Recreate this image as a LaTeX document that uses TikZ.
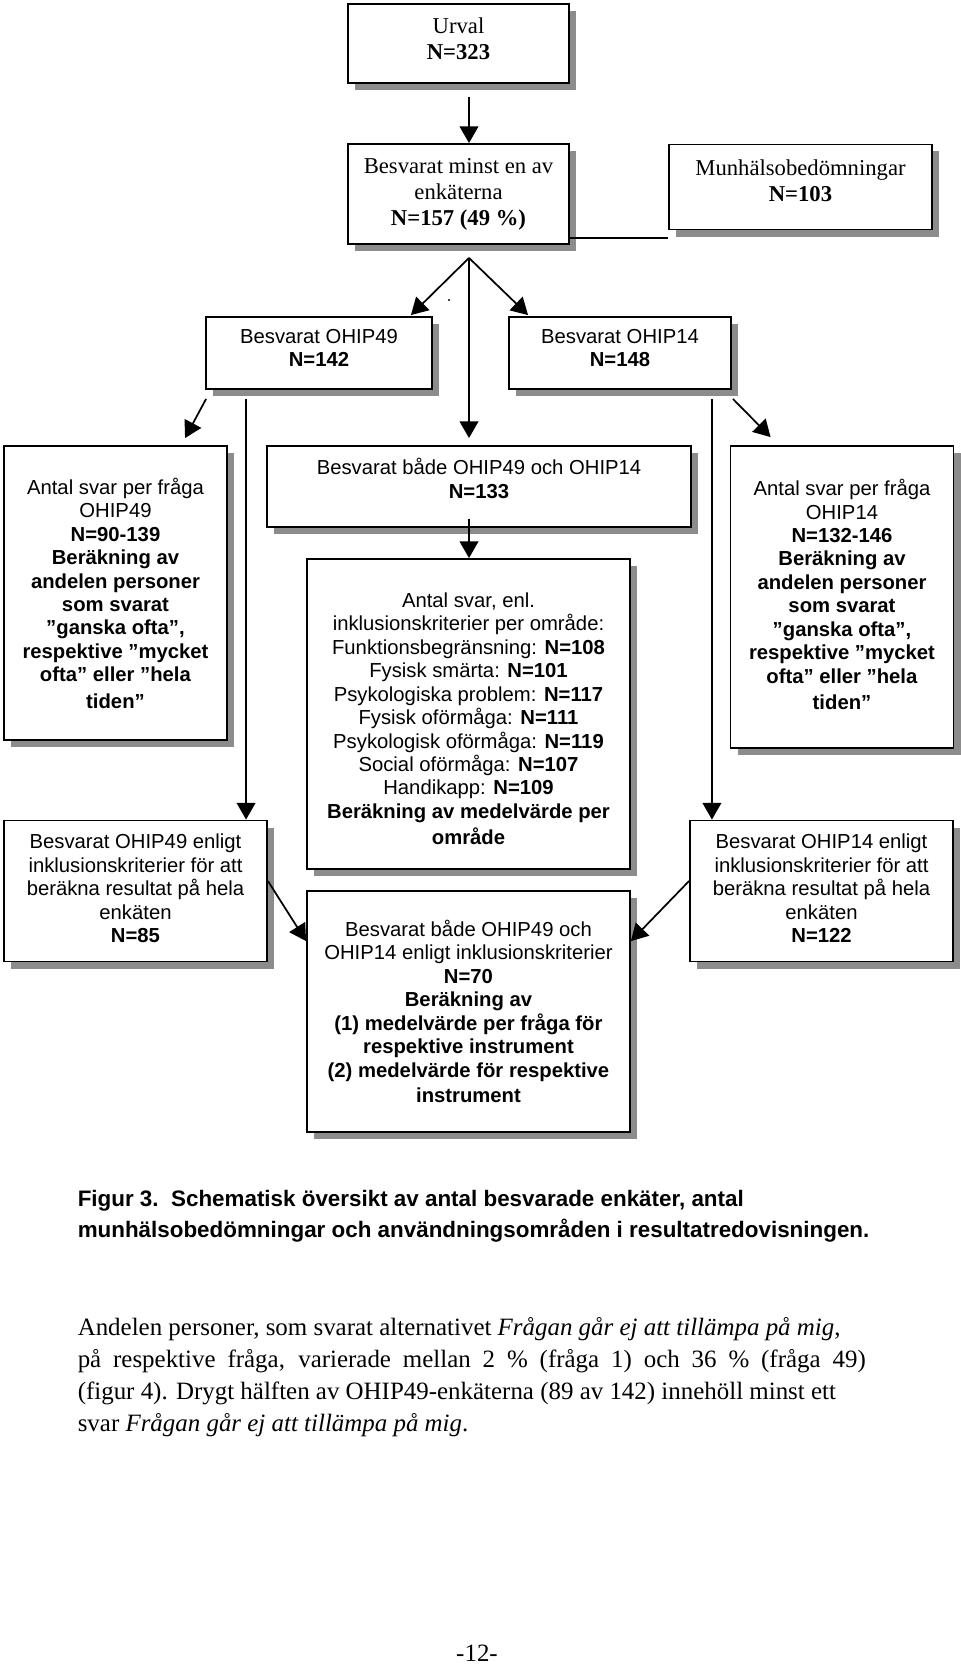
\documentclass[tikz,border=0pt]{standalone}
\usepackage{fontspec}
\setmainfont{Liberation Serif}
\newfontfamily\arialfont{Liberation Sans}
\usetikzlibrary{positioning}
\usetikzlibrary{arrows.meta}
\usetikzlibrary{shadows}
\usetikzlibrary{calc}
% extra depth below the last line, lifts the text in its box
\newcommand{\padbelow}[1]{\rule[-#1]{0pt}{#1}}

\begin{document}
\begin{tikzpicture}[x=0.75pt, y=-0.75pt,
    box/.style={draw, line width=1.4pt, fill=white, align=center, inner sep=1pt,
      drop shadow={shadow xshift=5.25pt, shadow yshift=-5.25pt, opacity=1, fill=black!45}},
    boxsize/.style 2 args={minimum width=#1*0.75pt, minimum height=#2*0.75pt},
    serifbox/.style={box, font=\fontsize{17}{19.5}\selectfont},
    sansbox/.style={box, font=\arialfont\fontsize{15.2}{17.6}\selectfont},
    arr/.style={-{Triangle[length=12.5pt,width=14pt]}, line width=1.3pt}]
  \useasboundingbox (0,0) rectangle (960,1666);

  % Urval och enkäter
  \node[serifbox, boxsize={221}{79}] (urval) at (458.5,43.5) {Urval\\\textbf{N=323}\padbelow{8pt}};
  \node[serifbox, boxsize={221}{100}] (minst) at (458.5,194) {Besvarat minst en av\\enkäterna\\\textbf{N=157 (49 \%)}};
  \node[serifbox, boxsize={263}{85}] (munh) at (800.5,187) {Munhälsobedömningar\\\textbf{N=103}\padbelow{9pt}};

  \node[sansbox, boxsize={226}{72}] (ohip49) at (319,353) {Besvarat OHIP49\\\textbf{N=142}\padbelow{8pt}};
  \node[sansbox, boxsize={222}{72}] (ohip14) at (620,353) {Besvarat OHIP14\\\textbf{N=148}\padbelow{8pt}};

  % Tredje raden
  \node[sansbox, boxsize={223}{294}] (antal49) at (115.5,593) {Antal svar per fråga\\OHIP49\\\textbf{N=90-139}\\\textbf{Beräkning av}\\\textbf{andelen personer}\\\textbf{som svarat}\\\textbf{”ganska ofta”,}\\\textbf{respektive ”mycket}\\\textbf{ofta” eller ”hela}\\[2pt]\textbf{tiden”}};
  \node[sansbox, boxsize={424}{81}] (bade) at (479,486.5) {Besvarat både OHIP49 och OHIP14\\\textbf{N=133}\padbelow{12pt}};
  \node[sansbox, boxsize={223}{302}] (antal14) at (842,597) {Antal svar per fråga\\OHIP14\\\textbf{N=132-146}\\\textbf{Beräkning av}\\\textbf{andelen personer}\\\textbf{som svarat}\\\textbf{”ganska ofta”,}\\\textbf{respektive ”mycket}\\\textbf{ofta” eller ”hela}\\[2pt]\textbf{tiden”}\padbelow{4pt}};
  \node[sansbox, boxsize={323}{310}] (omrade) at (468.5,714) {\rule{0pt}{18pt}Antal svar, enl.\\inklusionskriterier per område:\\Funktionsbegränsning: \textbf{N=108}\\Fysisk smärta: \textbf{N=101}\\Psykologiska problem: \textbf{N=117}\\Fysisk oförmåga: \textbf{N=111}\\Psykologisk oförmåga: \textbf{N=119}\\Social oförmåga: \textbf{N=107}\\Handikapp: \textbf{N=109}\\\textbf{Beräkning av medelvärde per}\\[2pt]\textbf{område}};

  % Enligt inklusionskriterier
  \node[sansbox, boxsize={263}{141}] (enligt49) at (135.5,891) {Besvarat OHIP49 enligt\\inklusionskriterier för att\\beräkna resultat på hela\\enkäten\\\textbf{N=85}\padbelow{4pt}};
  \node[sansbox, boxsize={263}{141}] (enligt14) at (821.5,891) {Besvarat OHIP14 enligt\\inklusionskriterier för att\\beräkna resultat på hela\\enkäten\\\textbf{N=122}\padbelow{4pt}};
  \node[sansbox, boxsize={323}{241}] (n70) at (468.5,1011.5) {Besvarat både OHIP49 och\\OHIP14 enligt inklusionskriterier\\\textbf{N=70}\\\textbf{Beräkning av}\\\textbf{(1) medelvärde per fråga för}\\\textbf{respektive instrument}\\\textbf{(2) medelvärde för respektive}\\[1.5pt]\textbf{instrument}};

  % Pilar
  \coordinate (split) at ($(minst.south)+(10.5,13)$);
  \draw[arr] ($(urval.south)+(10.5,13)$) -- ($(minst.north)+(10.5,0)$);
  \draw[line width=1.3pt] ($(minst.south east)+(0,-7)$) coordinate (mj) -- (mj -| munh.west);
  \draw[arr] (split) -- ($(ohip49.north east)+(-22,-1)$);
  \draw[arr] (split) -- ($(ohip14.north west)+(20,-1)$);
  \draw[arr] (split) -- ($(split |- bade.north)+(0,-7)$);
  \fill (449,300) circle (0.9pt);

  \draw[arr] ($(ohip49.south west)+(1,9)$) -- ($(antal49.north west)+(182,-7)$);
  \draw[arr] ($(ohip49.south west)+(41,9)$) coordinate (l49) -- (l49 |- enligt49.north);
  \draw[arr] ($(ohip14.south east)+(-20,9)$) coordinate (l14) -- (l14 |- enligt14.north);
  \draw[arr] ($(ohip14.south east)+(1,9)$) -- ($(antal14.north west)+(41,-8)$);
  \draw[arr] ($(split |- bade.south)+(0,-9)$) -- (split |- omrade.north);

  \draw[arr] ($(enligt49.east)+(0,-10)$) -- ($(n70.north west)+(0,51)$);
  \draw[arr] ($(enligt14.west)+(0,-10)$) -- ($(n70.north east)+(0,51)$);

  % Figurtext
  \node[anchor=base west, align=left, inner sep=0pt, font=\arialfont\bfseries\fontsize{16.8}{23.25}\selectfont] (caption) at (77.5,1237) {Figur 3.\ \ Schematisk översikt av antal besvarade enkäter, antal\\munhälsobedömningar och användningsområden i resultatredovisningen.};
  \node[anchor=base west, align=left, inner sep=0pt, font=\fontsize{18.7}{24}\selectfont] (stycke) at (77.5,1431) {Andelen personer, som svarat alternativet \textit{Frågan går ej att tillämpa på mig},\\\makebox[591pt][s]{på respektive fråga, varierade mellan 2 \% (fråga 1) och 36 \% (fråga 49)}\\(figur 4). Drygt hälften av OHIP49-enkäterna (89 av 142) innehöll minst ett\\svar \textit{Frågan går ej att tillämpa på mig}.};
  \node[anchor=base, inner sep=0pt, font=\fontsize{18.7}{24}\selectfont] (sidnr) at (477,1661) {-12-};
\end{tikzpicture}
\end{document}
